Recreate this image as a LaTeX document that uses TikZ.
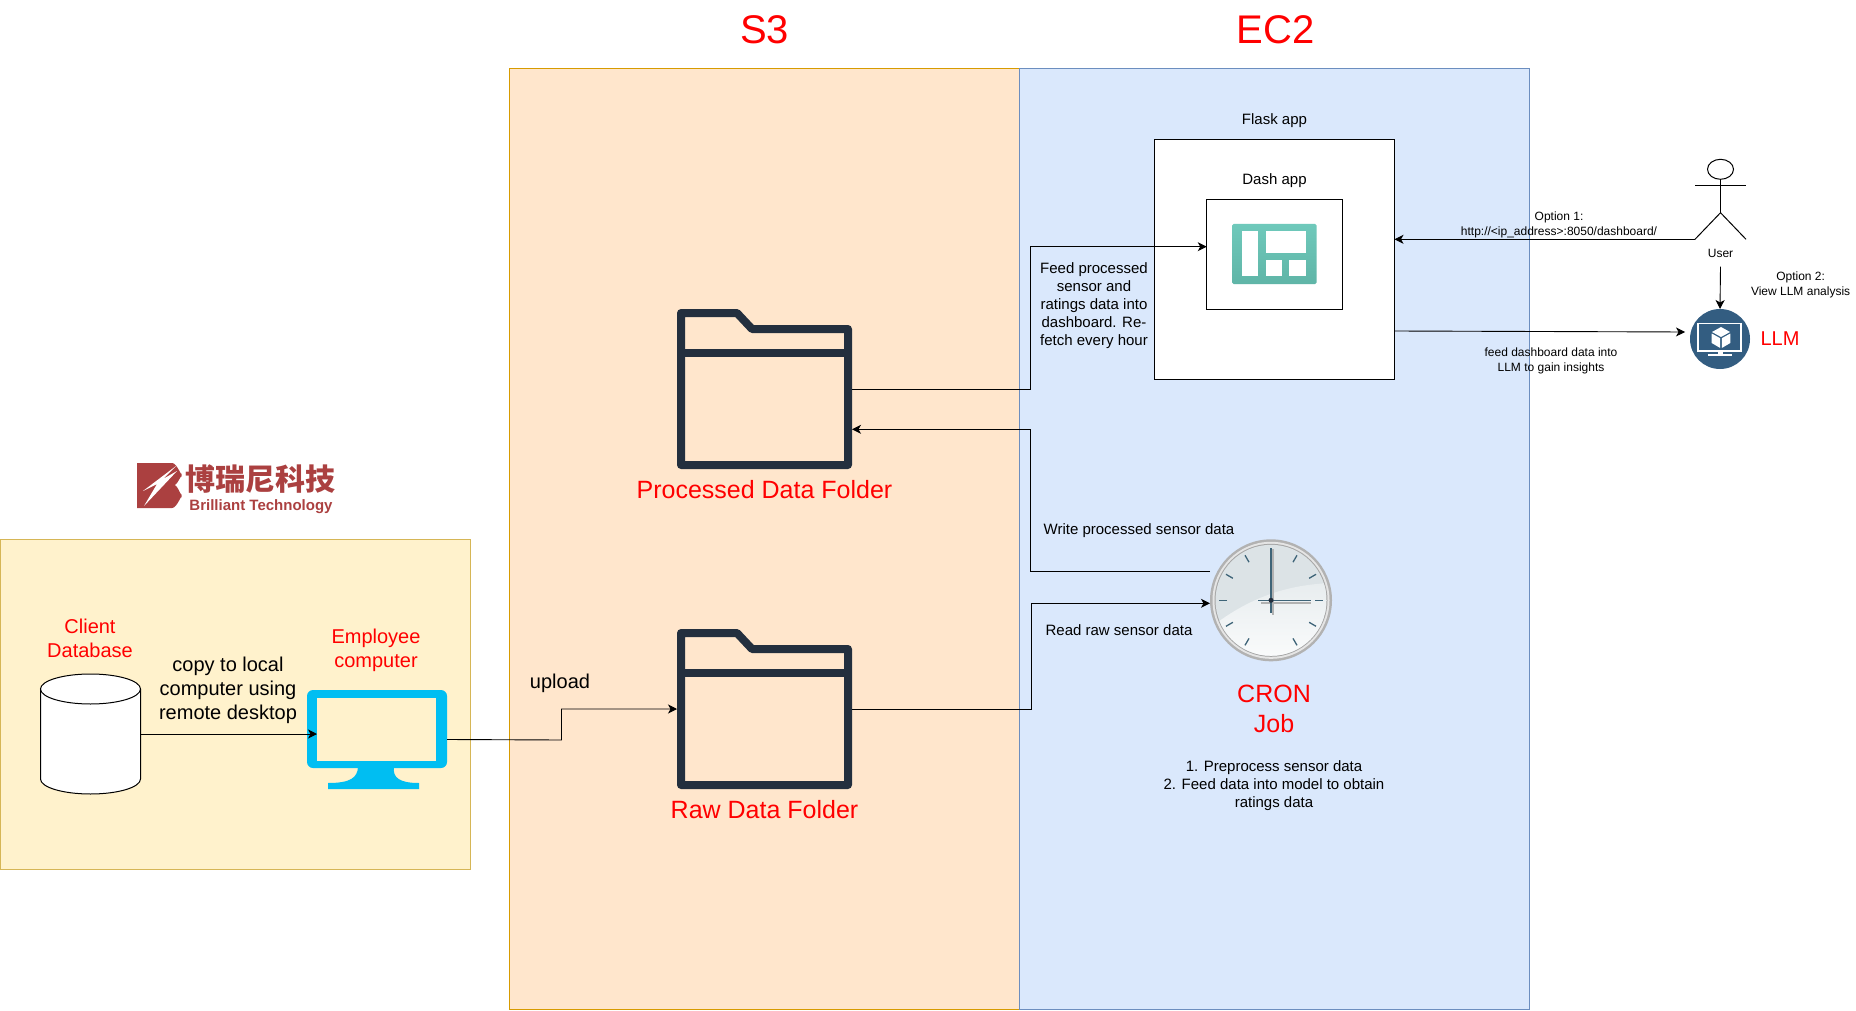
\documentclass[tikz,border=0pt]{standalone}
\usepackage{fontspec}
\setmainfont{Liberation Sans}
\newfontfamily\cjkfont{Noto Sans CJK SC}
\usetikzlibrary{arrows.meta}
\definecolor{sthreefill}{HTML}{FFE6CC}
\definecolor{sthreeline}{HTML}{D79B00}
\definecolor{ectwofill}{HTML}{DAE8FC}
\definecolor{ectwoline}{HTML}{6C8EBF}
\definecolor{clientfill}{HTML}{FFF2CC}
\definecolor{clientline}{HTML}{D6B656}
\definecolor{folderdark}{HTML}{232F3E}
\definecolor{monitorblue}{HTML}{00BEF2}
\definecolor{llmblue}{HTML}{335D81}
\definecolor{logored}{HTML}{AB4040}
\definecolor{clockhand}{HTML}{3E6478}
\definecolor{dashtop}{HTML}{6FC9BB}
\definecolor{dashbottom}{HTML}{5FB5A7}
\definecolor{clockface}{HTML}{DCE3E6}
\definecolor{clockglare}{HTML}{E8EDEF}
\tikzset{
	panel/.style={draw, line width=1pt, inner sep=0, outer sep=0},
	hollow/.style={inner sep=0, outer sep=0},
	conn/.style={line width=0.9pt, -{Stealth[length=9pt,width=9pt,inset=2.5pt]}},
	small/.style={inner sep=0, align=center, font=\fontsize{12}{15}\selectfont},
	mid/.style={inner sep=0, align=center, font=\fontsize{15}{18}\selectfont},
	big/.style={inner sep=0, align=center, font=\fontsize{20}{24}\selectfont},
	redbig/.style={big, text=red},
	foldertxt/.style={inner sep=0, text=red, font=\fontsize{25}{30}\selectfont},
	title/.style={inner sep=0, text=red, font=\fontsize{40}{48}\selectfont},
}
\begin{document}
\begin{tikzpicture}[x=1pt,y=-1pt]
	\useasboundingbox (0,0) rectangle (1856,1011);
	\node[panel, draw=sthreeline, fill=sthreefill, minimum width=510pt, minimum height=940pt] (sthree) at (764.5,539) {};
	\node[panel, draw=ectwoline, fill=ectwofill, minimum width=510pt, minimum height=940pt] (ectwo) at (1274.5,539) {};
	\node[panel, draw=clientline, fill=clientfill, minimum width=470pt, minimum height=330pt] (client) at (235.5,704) {};
	\node[title] (sthreetitle) at (764.5,30) {S3};
	\node[title] (ectwotitle) at (1275.5,30) {EC2};

	\fill[logored] (137,463) -- (172,463) to[out=0,in=-90] (181.7,473) -- (181.7,477) to[out=90,in=-30] (173,485) to[out=30,in=-90] (181.7,494) -- (181.7,498) to[out=90,in=0] (172,508) -- (137,508) -- cycle;
	\fill[white] (176,466) -- (143,491) -- (157,484) -- (144,506) -- (177,471) -- (163,479) -- cycle;
	\node[inner sep=0, text=logored, font=\cjkfont\bfseries\fontsize{30}{30}\selectfont] (logocn) at (260,479) {博瑞尼科技};
	\node[inner sep=0, text=logored, font=\bfseries\fontsize{15}{15}\selectfont] (logoen) at (261,507) {Brilliant Technology};

	\node[hollow, minimum width=100pt, minimum height=120pt] (clientdb) at (90.5,734) {};
	\draw[line width=1pt, fill=white] (40.5,689) -- (40.5,779) arc[start angle=180, end angle=0, x radius=50, y radius=15] -- (140.5,689);
	\draw[line width=1pt, fill=white] (90.5,689) ellipse[x radius=50, y radius=15];
	\node[redbig] (clientlabel) at (90,638) {Client\\Database};

	\node[hollow, minimum width=140pt, minimum height=99pt] (monitor) at (377,739.5) {};
	\fill[monitorblue, rounded corners=6pt] (307,690) rectangle (447,768);
	\fill[monitorblue] (358,766) .. controls (358,778) and (350,783) .. (328,783) -- (328,789) -- (419,789) -- (419,783) .. controls (400,783) and (392,778) .. (394,766) -- cycle;
	\node[hollow, fill=clientfill, minimum width=119pt, minimum height=63pt] (monscreen) at (376.5,729.5) {};
	\node[redbig] (monitorlabel) at (376,650) {Employee\\computer};
	\node[big] (copylabel) at (228,690) {copy to local\\computer using\\remote desktop};
	\draw[conn] (clientdb.east) -- (clientdb.east -| monscreen.west);

	\node[hollow, minimum width=175pt, minimum height=160pt] (procfolder) at (764.5,389) {};
	\node[hollow, minimum width=175pt, minimum height=160pt] (rawfolder) at (764.5,709) {};
	\foreach \fy in {0,320}{
		\draw[folderdark, line width=8pt, line join=round] (681,313+\fy) -- (737,313+\fy) -- (752,329+\fy) -- (848,329+\fy) -- (848,465+\fy) -- (681,465+\fy) -- cycle;
		\draw[folderdark, line width=8pt] (681,353+\fy) -- (848,353+\fy);
	}
	\node[foldertxt] (proclabel) at (764.5,490) {Processed Data Folder};
	\node[foldertxt] (rawlabel) at (764.5,810) {Raw Data Folder};
	\node[big] (uploadlabel) at (560,683) {upload};
	\coordinate (uploadbend) at (561.5,740);
	\draw[conn] (monitor.east) -- (uploadbend) |- (rawfolder.west);

	\node[panel, fill=white, minimum width=240pt, minimum height=240pt] (flask) at (1274.5,259.5) {};
	\node[panel, fill=white, minimum width=135.5pt, minimum height=110pt] (dash) at (1274.5,254.5) {};
	\node[mid] (flasklabel) at (1274.5,121) {Flask app};
	\node[mid] (dashlabel) at (1274.5,181) {Dash app};
	\shade[top color=dashtop, bottom color=dashbottom, rounded corners=1.5pt] (1232,224) rectangle (1316.5,284);
	\fill[white] (1242,230.7) rectangle (1258.3,276);
	\fill[white] (1266,230.7) rectangle (1305.7,253.3);
	\fill[white] (1266,260) rectangle (1281.7,276);
	\fill[white] (1289,260) rectangle (1305.7,276);

	\node[hollow, circle, minimum size=122pt] (clock) at (1271,600.3) {};
	\fill[black!30] (clock) circle(61);
	\fill[black!10] (clock) circle(58.5);
	\fill[black!35] (clock) circle(56.5);
	\begin{scope}
		\clip (clock) circle(55.5);
		\fill[clockface] (clock) circle(56);
		\shade[top color=clockglare, bottom color=white] (1205,632) .. controls (1250,595) and (1290,585) .. (1330,583) -- (1340,680) -- (1205,680) -- cycle;
	\end{scope}
	\foreach \ta in {0,30,60,120,150,180,210,240,270,300,330}
		\draw[clockhand, line width=1.3pt] (1271+44*cos \ta,600.3+44*sin \ta) -- (1271+52*cos \ta,600.3+52*sin \ta);
	\draw[black!30, line width=2pt] (1273,549) -- (1273,615);
	\draw[black!30, line width=2pt] (1261,603) -- (1311,603);
	\draw[clockhand, line width=1.3pt] (1271,549) -- (1271,613);
	\draw[clockhand, line width=1.3pt] (1258,600.3) -- (1310.5,600.3);
	\fill[folderdark] (clock) circle(2.5);
	\node[foldertxt, align=center] (cronlabel) at (1274,709) {CRON\\Job};
	\node[mid] (cronsteps) at (1274,786) {1. Preprocess sensor data\\2. Feed data into model to obtain\\ratings data};

	\node[hollow, minimum width=51pt, minimum height=80pt] (user) at (1720.5,199.3) {};
	\draw[line width=1pt] (1720.5,169.3) ellipse[x radius=13, y radius=10];
	\draw[line width=1pt] (1720.5,179.3) -- (1720.5,212.7);
	\draw[line width=1pt] (1695,186) -- (1746,186);
	\draw[line width=1pt] (1695,239.3) -- (1720.5,212.7) -- (1746,239.3);
	\node[small] (userlabel) at (1720.5,253.2) {User};

	\node[hollow, circle, fill=llmblue, minimum size=60pt] (llm) at (1720,339) {};
	\draw[white, line width=1.5pt] (1698,323.5) rectangle (1741,351);
	\fill[white] (1708,353.5) rectangle (1732,355.5);
	\fill[white] (1717.5,351) rectangle (1722.5,354);
	\fill[white] (1721,327) -- (1730,332) -- (1721,337) -- (1712,332) -- cycle;
	\fill[white] (1711.7,333.5) -- (1720.2,338.2) -- (1720.2,348) -- (1711.7,343) -- cycle;
	\fill[white] (1730.3,333.5) -- (1721.8,338.2) -- (1721.8,348) -- (1730.3,343) -- cycle;
	\node[inner sep=0, text=red, font=\fontsize{20}{24}\selectfont] (llmlabel) at (1780,339) {LLM};

	\coordinate (feedbend) at (1030,389);
	\coordinate (writebend) at (1030,571.7);
	\coordinate (readbend) at (1031,709);
	\coordinate (llmin) at (1685,332);
	\draw[conn] (procfolder.east) -- (feedbend) |- ([yshift=7.8pt]dash.west);
	\draw[conn] ([yshift=28.6pt]clock.west) -- (writebend) |- ([yshift=-40.3pt]procfolder.east);
	\draw[conn] (rawfolder.east) -- (readbend) |- ([yshift=-3pt]clock.west);
	\draw[conn] (user.south west) -- (user.south west -| flask.east);
	\draw[conn] ([yshift=-71.5pt]flask.east) -- (llmin);
	\draw[conn] ([yshift=-9pt]userlabel.south) -- (llm.north);

	\node[mid] (feedlabel) at (1094,305.5) {Feed processed\\sensor and\\ratings data into\\dashboard. Re-\\fetch every hour};
	\node[mid] (writelabel) at (1139,531) {Write processed sensor data};
	\node[mid] (readlabel) at (1119,630) {Read raw sensor data};
	\node[small] (optonelabel) at (1559,225.2) {Option 1:\\http://<ip\_address>:8050/dashboard/};
	\node[small] (opttwolabel) at (1800.6,285.2) {Option 2:\\View LLM analysis};
	\node[small] (llmfeedlabel) at (1551,361.2) {feed dashboard data into\\LLM to gain insights};
\end{tikzpicture}
\end{document}
